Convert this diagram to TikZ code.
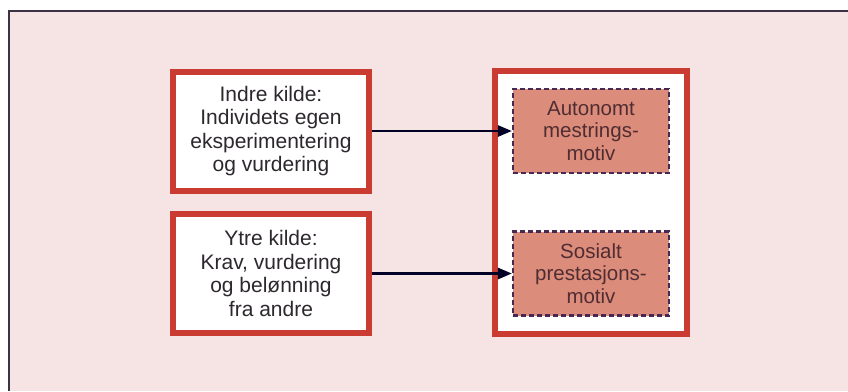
\documentclass[tikz,border=0pt]{standalone}
\usepackage{fontspec}
\setmainfont{Liberation Sans}
\usetikzlibrary{positioning,arrows.meta}
\definecolor{bgC}{RGB}{246,228,228}
\definecolor{frameC}{RGB}{60,50,70}
\definecolor{redC}{RGB}{202,60,50}
\definecolor{motivC}{RGB}{220,140,122}
\definecolor{dashC}{RGB}{70,40,80}
\definecolor{textC}{RGB}{45,40,45}
\definecolor{motivtextC}{RGB}{80,45,50}
\tikzset{
	source/.style={draw=redC, line width=6pt, fill=white, align=center,
		minimum width=196pt, minimum height=119pt, inner sep=0pt,
		text=textC, font=\fontsize{21}{23.5}\selectfont},
	holder/.style={draw=redC, line width=6pt, fill=white,
		minimum width=192pt, minimum height=263pt, inner sep=0pt},
	motiv/.style={draw=dashC, dash pattern=on 5pt off 3pt, line width=2.2pt,
		fill=motivC, align=center,
		minimum width=156pt, minimum height=84pt, inner sep=0pt,
		text=motivtextC, font=\fontsize{20.5}{22.5}\selectfont},
	flow/.style={-{Triangle[length=14pt,width=11pt]}, line width=2.6pt, black!85!blue},
}
\begin{document}
\begin{tikzpicture}[x=1pt, y=-1pt]
	
	% ================= Background and frame =================
	\fill[white] (0,0) rectangle (848,391);
	\useasboundingbox (0,0) rectangle (848,391);
	\fill[bgC] (9,11) rectangle (848,391);
	\draw[frameC, line width=1.5pt] (9,391) -- (9,11) -- (848,11);
	
	% ================= Sources =================
	\node[source] (indre) at (271,131)
	{Indre kilde:\\Individets egen\\eksperimentering\\og vurdering};
	\node[source] (ytre) at (271,273.5)
	{Ytre kilde:\\Krav, vurdering\\og belønning\\fra andre};
	
	% ================= Motives =================
	\node[holder] (holder) at (591,202.5) {};
	\node[motiv] (autonomt) at (591,131)
	{Autonomt\\mestrings-\\motiv};
	\node[motiv] (sosialt) at (591,273.5)
	{Sosialt\\prestasjons-\\motiv};
	
	% ================= Arrows =================
	\draw[flow] (indre) -- (autonomt);
	\draw[flow] (ytre) -- (sosialt);
	
\end{tikzpicture}
\end{document}
